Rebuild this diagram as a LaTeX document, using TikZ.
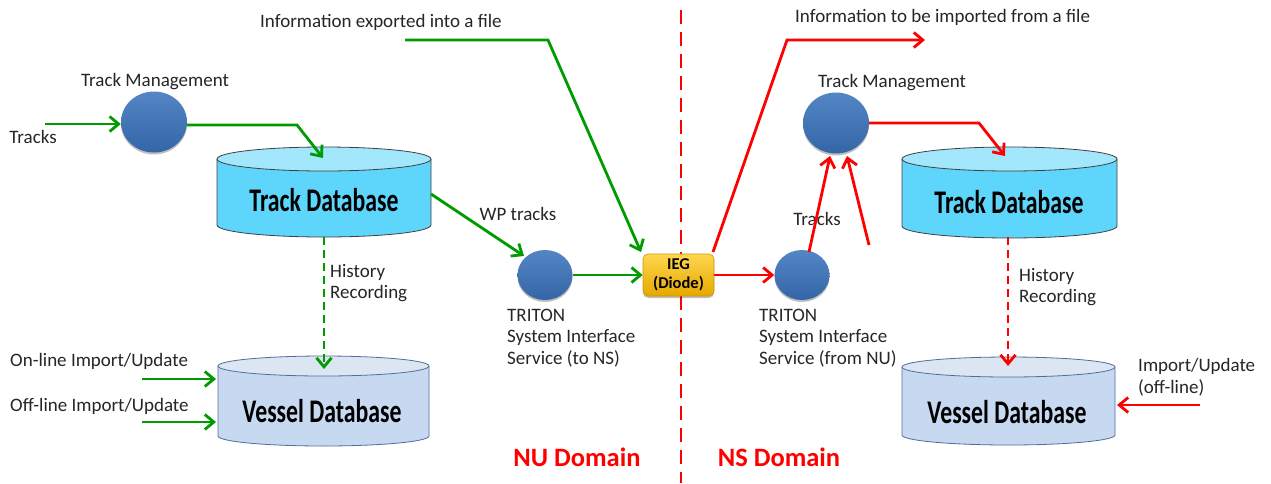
\documentclass[tikz,border=0pt]{standalone}
\usepackage{fontspec}
\setmainfont{Carlito}
\newfontfamily\dbfont[FakeStretch=0.72]{Carlito}
\usetikzlibrary{arrows.meta,shapes.geometric,shadows}
\definecolor{grn}{RGB}{0,155,0}
\definecolor{rd}{RGB}{255,0,0}
\definecolor{txt}{RGB}{38,38,38}
\definecolor{ballT}{RGB}{84,134,198}
\definecolor{ballB}{RGB}{52,101,166}
\definecolor{tdbBody}{RGB}{94,213,251}
\definecolor{tdbTop}{RGB}{163,231,252}
\definecolor{vdbBody}{RGB}{198,217,240}
\definecolor{vdbTop}{RGB}{220,230,243}
\definecolor{vdbLine}{RGB}{79,110,154}
\definecolor{iegT}{RGB}{255,214,80}
\definecolor{iegB}{RGB}{230,168,0}
% cylinder: #1 cx, #2 rx, #3 ytop, #4 ybot, #5 ry, #6 body, #7 top, #8 line
\newcommand\mycyl[8]{%
  \fill[#6] ({#1-#2},#3) -- ({#1-#2},#4) arc[start angle=180,end angle=360,x radius=#2pt,y radius=#5pt] -- ({#1+#2},#3) -- cycle;
  \draw[#8,line width=0.8pt] ({#1-#2},#3) -- ({#1-#2},#4) arc[start angle=180,end angle=360,x radius=#2pt,y radius=#5pt] -- ({#1+#2},#3);
  \filldraw[fill=#7,draw=#8,line width=0.8pt] (#1,#3) ellipse[x radius=#2pt,y radius=#5pt];
}
\tikzset{
  lbl/.style={font=\fontsize{19}{21.5}\selectfont, text=txt, inner sep=0pt},
  dbl/.style={font=\dbfont\bfseries\fontsize{33}{36}\selectfont, text=black, inner sep=0pt},
  dom/.style={font=\bfseries\fontsize{26.5}{30}\selectfont, text=rd, inner sep=0pt},
  ball/.style={ellipse, inner sep=0pt, minimum width=66pt, minimum height=61pt,
    top color=ballT, bottom color=ballB, draw=none,
    drop shadow={shadow xshift=0pt, shadow yshift=-2pt, opacity=0.25, fill=black}},
  sball/.style={ball, minimum width=55pt, minimum height=50pt},
  tip/.style={-{Straight Barb[length=9pt,width=15pt]}},
  garr/.style={draw=grn, line width=2.8pt, line join=miter},
  rarr/.style={draw=rd, line width=2.8pt, line join=miter},
}
\begin{document}
\begin{tikzpicture}[x=1pt,y=-1pt]
\useasboundingbox[fill=white] (0,0) rectangle (1271,483);

% divider
\coordinate (divT) at (681,10);
\coordinate (divB) at (681,483);
\draw[rd, line width=1.6pt, dash pattern=on 14pt off 8pt] (divT) -- (divB);

% ---------- left (NU) ----------
\mycyl{324}{107}{159}{225}{12}{tdbBody}{tdbTop}{black!75}
\node[dbl] (tdbL) at (324,200) {Track Database};
\mycyl{323.5}{105.5}{366}{436}{10}{vdbBody}{vdbTop}{vdbLine}
\node[dbl] (vdbL) at (322,411) {Vessel Database};

\node[ball] (tmL) at (154,122) {};
\node[lbl] (tmLlbl) at (155,82) {Track Management};
\node[lbl] (trkL) at (33,137) {Tracks};
\node[sball] (sisL) at (545,275) {};
\node[lbl, anchor=west, align=left] (sisLlbl) at (507,338) {TRITON\\System Interface\\Service (to NS)};
\node[lbl] (wp) at (518,214) {WP tracks};
\node[lbl, anchor=west, align=left] (histL) at (330,283) {History\\Recording};
\node[lbl, anchor=west] (onl) at (10,361) {On-line Import/Update};
\node[lbl, anchor=west] (offl) at (10,406) {Off-line Import/Update};
\node[lbl, anchor=west] (expl) at (260,22) {Information exported into a file};

% IEG
\node[rectangle, rounded corners=5pt, minimum width=71pt, minimum height=42pt, inner sep=0pt,
  top color=iegT, bottom color=iegB, draw=iegB!90!black, line width=0.6pt,
  align=center, font=\bfseries\fontsize{16.5}{19}\selectfont,
  drop shadow={shadow xshift=0pt, shadow yshift=-2pt, opacity=0.25, fill=black}] (ieg) at (678.5,275) {IEG\\(Diode)};

% ---------- right (NS) ----------
\mycyl{1009.5}{107.5}{159}{226}{12}{tdbBody}{tdbTop}{black!75}
\node[dbl] (tdbR) at (1009,202) {Track Database};
\mycyl{1008.5}{106.5}{367}{435}{10}{vdbBody}{vdbTop}{vdbLine}
\node[dbl] (vdbR) at (1007,412) {Vessel Database};

\node[ball] (tmR) at (836,123) {};
\node[lbl] (tmRlbl) at (892,83) {Track Management};
\node[sball] (sisR) at (802,275) {};
\node[lbl, anchor=west, align=left] (sisRlbl) at (759,338) {TRITON\\System Interface\\Service (from NU)};
\node[lbl] (trkR) at (817,219) {Tracks};
\node[lbl, anchor=west, align=left] (histR) at (1019,287) {History\\Recording};
\node[lbl, anchor=west, align=left] (impR) at (1138,377) {Import/Update\\(off-line)};
\node[lbl, anchor=west] (impl) at (795,17) {Information to be imported from a file};

\node[dom] (nu) at (577,457) {NU Domain};
\node[dom] (ns) at (779,457) {NS Domain};

% ---------- coordinates ----------
\coordinate (trkInL) at (45,124);
\coordinate (bendL) at (297,125);
\coordinate (tdbLin) at (323,158);
\coordinate (tdbLout) at (431,194);
\coordinate (sisLin) at (524,256);
\coordinate (histLs) at (324,237);
\coordinate (histLe) at (324,369);
\coordinate (onS) at (142,379);
\coordinate (onE) at (216,379);
\coordinate (offS) at (142,422);
\coordinate (offE) at (216,422);
\coordinate (expS) at (405,40);
\coordinate (expB) at (548,40);
\coordinate (iegIn) at (641,252);

\coordinate (iegOut) at (713,252);
\coordinate (impB) at (787,40);
\coordinate (impE) at (925,40);
\coordinate (sisRup) at (809,252);
\coordinate (tmRin1) at (830,156);
\coordinate (trkRs) at (869,245);
\coordinate (tmRin2) at (847,156);
\coordinate (bendR) at (979,123);
\coordinate (tdbRin) at (1005,156);
\coordinate (histRs) at (1008,237);
\coordinate (histRe) at (1008,366);
\coordinate (impRs) at (1200,405);
\coordinate (impRe) at (1117,405);

% ---------- green connectors ----------
\draw[garr, tip] (trkInL) -- (trkInL -| tmL.west);
\draw[garr, tip] (tmL.east |- bendL) -- (bendL) -- (tdbLin);
\draw[garr, tip] (tdbLout) -- (sisLin);
\draw[garr, tip] (sisL.east) -- (ieg.west);
\draw[garr, tip] (expS) -- (expB) -- (iegIn);
\draw[garr, tip, dash pattern=on 8pt off 5pt] (histLs) -- (histLe);
\draw[garr, tip] (onS) -- (onE);
\draw[garr, tip] (offS) -- (offE);

% ---------- red connectors ----------
\draw[rarr, tip] (ieg.east) -- (sisR.west);
\draw[rarr, tip] (iegOut) -- (impB) -- (impE);
\draw[rarr, tip] (sisRup) -- (tmRin1);
\draw[rarr, tip] (trkRs) -- (tmRin2);
\draw[rarr, tip] (tmR.east) -- (bendR) -- (tdbRin);
\draw[rarr, tip, dash pattern=on 8pt off 5pt] (histRs) -- (histRe);
\draw[rarr, tip] (impRs) -- (impRe);
\end{tikzpicture}
\end{document}
